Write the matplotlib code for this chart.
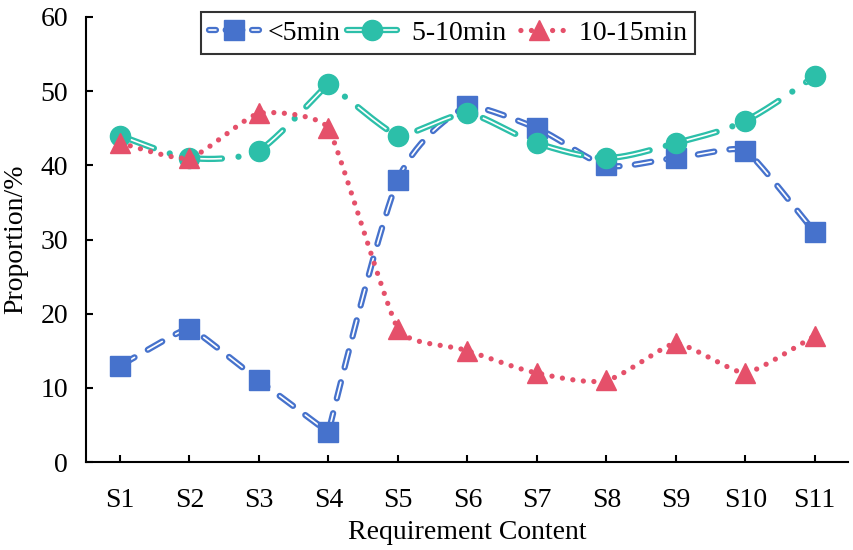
import numpy as np
import matplotlib
matplotlib.use('Agg')
import matplotlib.pyplot as plt
from matplotlib.lines import Line2D

plt.rcParams['font.family'] = ['Liberation Serif', 'DejaVu Serif']
plt.rcParams['lines.scale_dashes'] = False

categories = ['S1', 'S2', 'S3', 'S4', 'S5', 'S6', 'S7', 'S8', 'S9', 'S10', 'S11']
under5 = [13, 18, 11, 4, 38, 48, 45, 40, 41, 42, 31]
min5_10 = [44, 41, 42, 51, 44, 47, 43, 41, 43, 46, 52]
min10_15 = [43, 41, 47, 45, 18, 15, 12, 11, 16, 12, 17]
labels = ['<5min', ' 5-10min', ' 10-15min']

blue = '#4672CC'
teal = '#2CBFA9'
red = '#E5506A'


def smooth(y, n=60, sx=69.5, sy=7.42):
    # smoothed line like excel: bezier through points, arms shrink at sharp turns
    p = np.column_stack([np.arange(1, len(y) + 1) * sx, np.asarray(y, float) * sy])
    m = len(p)
    arms = []
    for i in range(m):
        a = p[max(i - 1, 0)]
        b = p[min(i + 1, m - 1)]
        t = (b - a) / 6
        if 0 < i < m - 1:
            u1 = p[i] - a
            u2 = b - p[i]
            c = np.dot(u1, u2) / (np.linalg.norm(u1) * np.linalg.norm(u2))
            t = t * max(c, 0) ** 1.5
        arms.append(t)
    out = []
    for i in range(m - 1):
        p1 = p[i]
        p2 = p[i + 1]
        c1 = p1 + arms[i]
        c2 = p2 - arms[i + 1]
        t = np.linspace(0, 1, n)[:, None]
        if i < m - 2:
            t = t[:-1]
        bz = (1 - t) ** 3 * p1 + 3 * (1 - t) ** 2 * t * c1 + 3 * (1 - t) * t ** 2 * c2 + t ** 3 * p2
        out.append(bz)
    out = np.vstack(out)
    return out[:, 0] / sx, out[:, 1] / sy


fig = plt.figure(figsize=(8.54, 5.5), dpi=100)
ax = fig.add_axes([86 / 854, 88 / 550, 762 / 854, 445 / 550])

x = np.arange(1, len(categories) + 1)
lw_out = 4.5
lw_in = 1.2
lw_red = 3.8
dash_blue = (0, (12, 11))
dash_teal = (0, (26, 12, 0.01, 12))
dash_teal_in = (0, (26, 12, 0.0001, 12))
dot_red = (0, (0.01, 7.6))

# <5min
sx, sy = smooth(under5)
ax.plot(sx, sy, color=blue, lw=lw_out, linestyle=dash_blue, dash_capstyle='round', zorder=2)
ax.plot(sx, sy, color='white', lw=lw_in, linestyle=dash_blue, dash_capstyle='round', zorder=2)
ax.plot(x, under5, linestyle='none', marker='s', ms=14, color=blue, zorder=3)

# 5-10min
sx, sy = smooth(min5_10)
ax.plot(sx, sy, color=teal, lw=lw_out, linestyle=dash_teal, dash_capstyle='round', zorder=4)
ax.plot(sx, sy, color='white', lw=lw_in, linestyle=dash_teal_in, dash_capstyle='butt', zorder=4)
ax.plot(x, min5_10, linestyle='none', marker='o', ms=14.5, color=teal, zorder=5)

# 10-15min
sx, sy = smooth(min10_15)
ax.plot(sx, sy, color=red, lw=lw_red, linestyle=dot_red, dash_capstyle='round', zorder=6)
ax.plot(x, min10_15, linestyle='none', marker='^', ms=15, color=red, zorder=7)

ax.set_xlim(0.51, 11.48)
ax.set_ylim(0, 60)
ax.set_xticks(x)
ax.set_xticklabels(categories)
ax.set_yticks(np.arange(0, 61, 10))
ax.spines['top'].set_visible(False)
ax.spines['right'].set_visible(False)
for s in ['left', 'bottom']:
    ax.spines[s].set_linewidth(1.5)
ax.tick_params(axis='x', direction='in', length=5, width=1.5, labelsize=20, pad=19)
ax.tick_params(axis='y', direction='in', length=5, width=1.5, labelsize=20, pad=13)
ax.set_xlabel('Requirement Content', fontsize=20, labelpad=5)
ax.set_ylabel('Proportion/%', fontsize=20, labelpad=9)

# legend handles (double line + marker)
leg_dash = (0, (5, 7, 12, 7, 5))
h1 = (Line2D([], [], color=blue, lw=lw_out, linestyle=leg_dash, dash_capstyle='round'),
      Line2D([], [], color='white', lw=lw_in, linestyle=leg_dash, dash_capstyle='round'),
      Line2D([], [], linestyle='none', marker='s', ms=14, color=blue))
h2 = (Line2D([], [], color=teal, lw=lw_out, solid_capstyle='round'),
      Line2D([], [], color='white', lw=lw_in, solid_capstyle='round'),
      Line2D([], [], linestyle='none', marker='o', ms=14.5, color=teal))
h3 = (Line2D([], [], color=red, lw=lw_red, linestyle=(3, (0.01, 7.6)), dash_capstyle='round'),
      Line2D([], [], linestyle='none', marker='^', ms=15, color=red))
leg = ax.legend([h1, h2, h3], labels, loc='upper center', bbox_to_anchor=(448 / 854, 1 - 12 / 550),
                bbox_transform=fig.transFigure, ncol=3, fontsize=20, frameon=True, fancybox=False,
                edgecolor='black', handlelength=1.8, handletextpad=0.3, columnspacing=0.25,
                borderpad=0.3, borderaxespad=0)
leg.get_frame().set_linewidth(1.5)
leg.set_zorder(10)

fig.savefig('out.png', dpi=100)
